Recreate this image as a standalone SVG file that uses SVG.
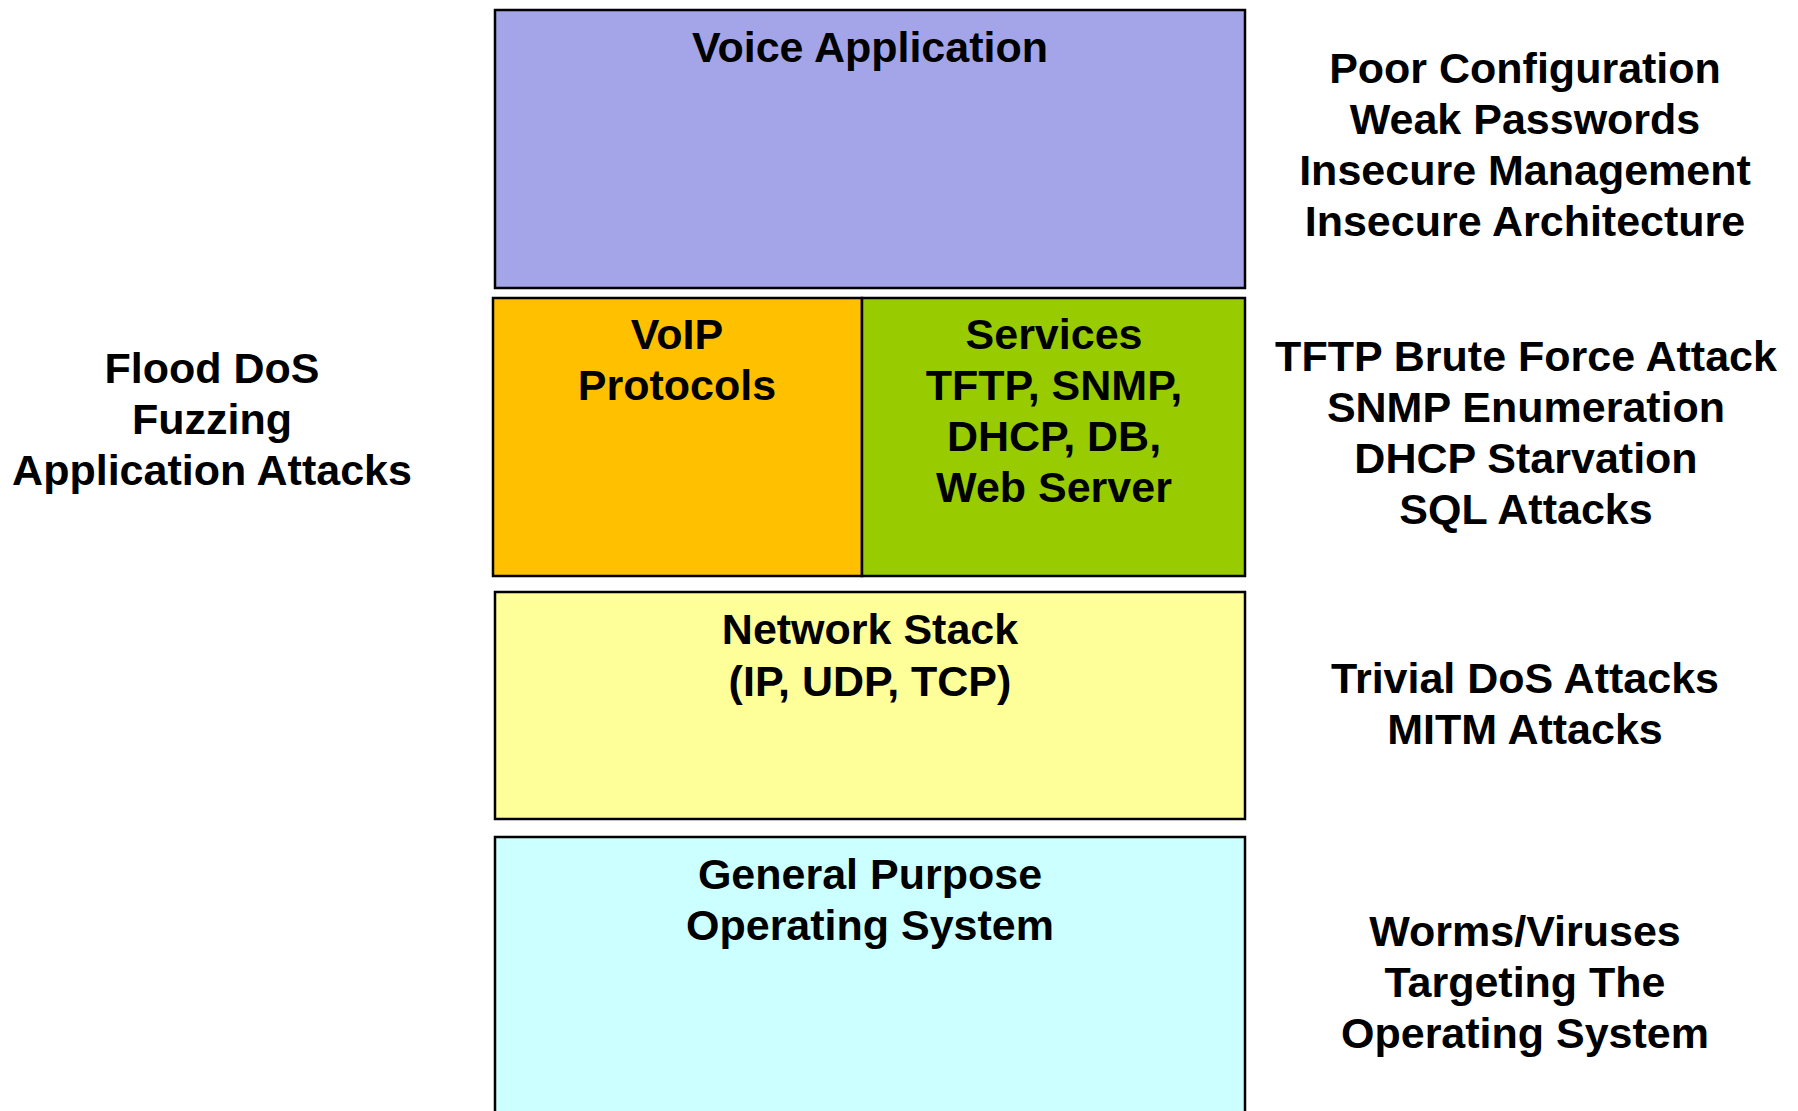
<svg xmlns="http://www.w3.org/2000/svg" width="1798" height="1111" viewBox="0 0 1798 1111">
  <style>
    .box { stroke: #000; stroke-width: 2.5; }
    .lbl { font-family: "Liberation Sans", Arial, sans-serif; font-weight: bold; font-size: 43px; fill: #000; text-anchor: middle; }
  </style>
  <rect width="1798" height="1111" fill="#fff"/>

  <!-- Layer stack -->
  <g id="voice-application">
    <rect class="box" x="495" y="10" width="750" height="278" fill="#a3a5e8"/>
    <text class="lbl" x="870" y="62">Voice Application</text>
  </g>
  <g id="voip-protocols">
    <rect class="box" x="493" y="298" width="369" height="278" fill="#ffc000"/>
    <text class="lbl" x="677" y="349">VoIP</text>
    <text class="lbl" x="677" y="400">Protocols</text>
  </g>
  <g id="services">
    <rect class="box" x="862" y="298" width="383" height="278" fill="#99cc00"/>
    <text class="lbl" x="1054" y="349">Services</text>
    <text class="lbl" x="1054" y="400">TFTP, SNMP,</text>
    <text class="lbl" x="1054" y="451">DHCP, DB,</text>
    <text class="lbl" x="1054" y="502">Web Server</text>
  </g>
  <g id="network-stack">
    <rect class="box" x="495" y="592" width="750" height="227" fill="#ffff99"/>
    <text class="lbl" x="870" y="644">Network Stack</text>
    <text class="lbl" x="870" y="696">(IP, UDP, TCP)</text>
  </g>
  <g id="operating-system">
    <rect class="box" x="495" y="837" width="750" height="290" fill="#ccffff"/>
    <text class="lbl" x="870" y="889">General Purpose</text>
    <text class="lbl" x="870" y="940">Operating System</text>
  </g>

  <!-- Attack annotations -->
  <g id="attacks-left">
    <text class="lbl" x="212" y="383">Flood DoS</text>
    <text class="lbl" x="212" y="434">Fuzzing</text>
    <text class="lbl" x="212" y="485">Application Attacks</text>
  </g>
  <g id="attacks-application">
    <text class="lbl" x="1525" y="83">Poor Configuration</text>
    <text class="lbl" x="1525" y="134">Weak Passwords</text>
    <text class="lbl" x="1525" y="185">Insecure Management</text>
    <text class="lbl" x="1525" y="236">Insecure Architecture</text>
  </g>
  <g id="attacks-services">
    <text class="lbl" x="1526" y="371">TFTP Brute Force Attack</text>
    <text class="lbl" x="1526" y="422">SNMP Enumeration</text>
    <text class="lbl" x="1526" y="473">DHCP Starvation</text>
    <text class="lbl" x="1526" y="524">SQL Attacks</text>
  </g>
  <g id="attacks-network">
    <text class="lbl" x="1525" y="693">Trivial DoS Attacks</text>
    <text class="lbl" x="1525" y="744">MITM Attacks</text>
  </g>
  <g id="attacks-os">
    <text class="lbl" x="1525" y="946">Worms/Viruses</text>
    <text class="lbl" x="1525" y="997">Targeting The</text>
    <text class="lbl" x="1525" y="1048">Operating System</text>
  </g>

  <!-- no connectors in this diagram -->
  <g id="connectors"/>
</svg>
